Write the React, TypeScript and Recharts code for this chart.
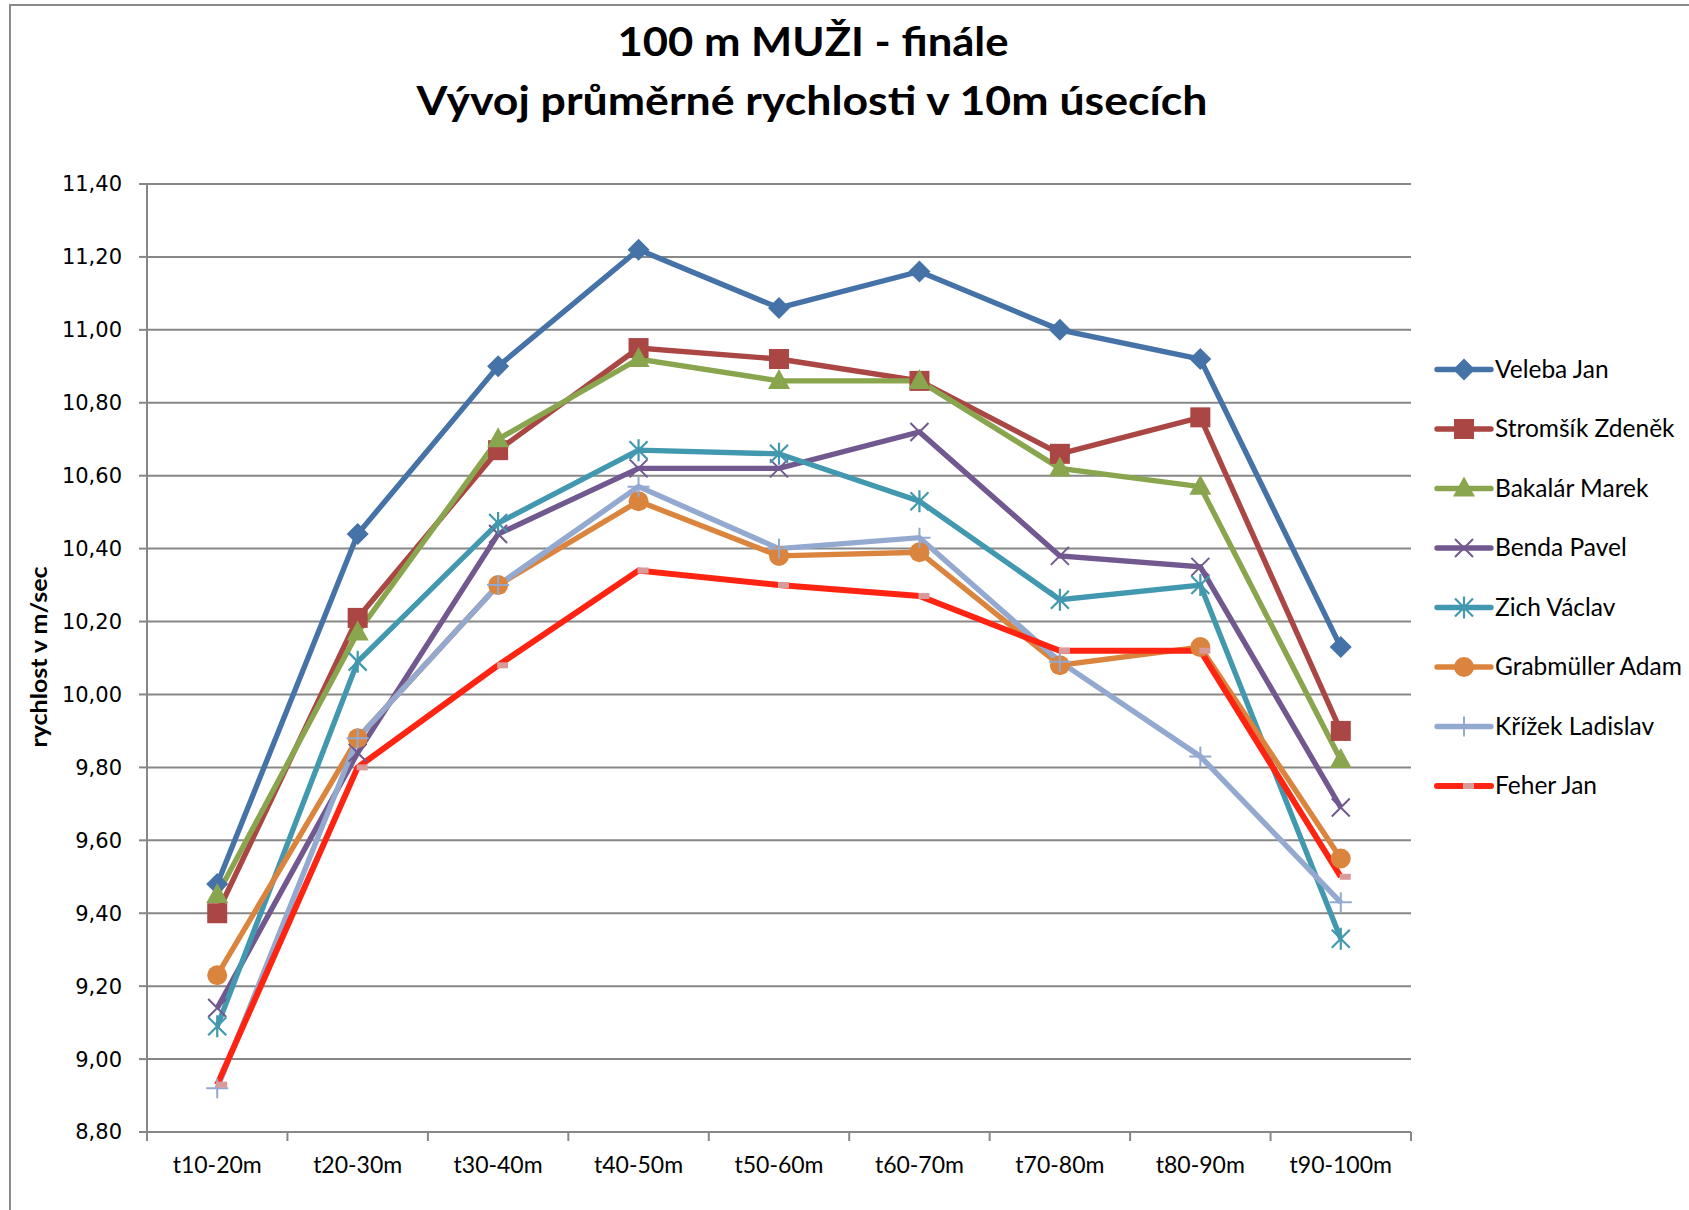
import React from 'react';
import { LineChart, Line, XAxis, YAxis, CartesianGrid } from 'recharts';

const segments = ['t10-20m', 't20-30m', 't30-40m', 't40-50m', 't50-60m', 't60-70m', 't70-80m', 't80-90m', 't90-100m'];

const velebaJan = [9.48, 10.44, 10.9, 11.22, 11.06, 11.16, 11.0, 10.92, 10.13];
const stromsikZdenek = [9.4, 10.21, 10.67, 10.95, 10.92, 10.86, 10.66, 10.76, 9.9];
const bakalarMarek = [9.45, 10.17, 10.7, 10.92, 10.86, 10.86, 10.62, 10.57, 9.82];
const bendaPavel = [9.14, 9.84, 10.44, 10.62, 10.62, 10.72, 10.38, 10.35, 9.69];
const zichVaclav = [9.09, 10.09, 10.47, 10.67, 10.66, 10.53, 10.26, 10.3, 9.33];
const grabmullerAdam = [9.23, 9.88, 10.3, 10.53, 10.38, 10.39, 10.08, 10.13, 9.55];
const krizekLadislav = [8.92, 9.88, 10.3, 10.57, 10.4, 10.43, 10.09, 9.83, 9.43];
const feherJan = [8.93, 9.8, 10.08, 10.34, 10.3, 10.27, 10.12, 10.12, 9.5];

const seriesNames = ['Veleba Jan', 'Stromšík Zdeněk', 'Bakalár Marek', 'Benda Pavel', 'Zich Václav', 'Grabmüller Adam', 'Křížek Ladislav', 'Feher Jan'];
const seriesValues = [velebaJan, stromsikZdenek, bakalarMarek, bendaPavel, zichVaclav, grabmullerAdam, krizekLadislav, feherJan];
const lineColors = ['#4572A7', '#AA4643', '#89A54E', '#71588F', '#4198AF', '#DB843D', '#93A9CF', '#FF2412'];
const markerColors = ['#4572A7', '#AA4643', '#89A54E', '#71588F', '#4198AF', '#DB843D', '#93A9CF', '#D99A9A'];
const markerShapes = ['diamond', 'square', 'triangle', 'x', 'star', 'circle', 'plus', 'dash'];
const lineWidths = [5.4, 5.4, 5.4, 5.4, 5.4, 5.4, 5.4, 6];

const yTicks = [8.8, 9.0, 9.2, 9.4, 9.6, 9.8, 10.0, 10.2, 10.4, 10.6, 10.8, 11.0, 11.2, 11.4];
// category boundaries (integers) and category centres (halves)
const xTicks = [0, 0.5, 1, 1.5, 2, 2.5, 3, 3.5, 4, 4.5, 5, 5.5, 6, 6.5, 7, 7.5, 8, 8.5, 9];

const titleLine1 = '100 m MUŽI - finále';
const titleLine2 = 'Vývoj průměrné rychlosti v 10m úsecích';
const yAxisTitle = 'rychlost v m/sec';

const data = segments.map((seg, i) => {
  const row: any = { seg, pos: i + 0.5 };
  seriesValues.forEach((vals, s) => {
    row['s' + s] = vals[i];
  });
  return row;
});

const GRID = '#878787';

function Marker({ cx, cy, shape, color }: { cx: number; cy: number; shape: string; color: string }) {
  if (cx == null || cy == null) return null;
  switch (shape) {
    case 'diamond':
      return <path d={`M${cx},${cy - 11}L${cx + 11},${cy}L${cx},${cy + 11}L${cx - 11},${cy}Z`} fill={color} />;
    case 'square':
      return <rect x={cx - 10} y={cy - 10} width={20} height={20} fill={color} />;
    case 'triangle':
      return <path d={`M${cx},${cy - 12}L${cx + 11},${cy + 8}L${cx - 11},${cy + 8}Z`} fill={color} />;
    case 'x':
      return <path d={`M${cx - 9},${cy - 9}L${cx + 9},${cy + 9}M${cx + 9},${cy - 9}L${cx - 9},${cy + 9}`} stroke={color} strokeWidth={2} fill="none" />;
    case 'star':
      return (
        <path
          d={`M${cx - 9},${cy - 9}L${cx + 9},${cy + 9}M${cx + 9},${cy - 9}L${cx - 9},${cy + 9}M${cx},${cy - 11}L${cx},${cy + 11}`}
          stroke={color}
          strokeWidth={2.2}
          fill="none"
        />
      );
    case 'circle':
      return <circle cx={cx} cy={cy} r={10} fill={color} />;
    case 'plus':
      return <path d={`M${cx - 11},${cy}L${cx + 11},${cy}M${cx},${cy - 10}L${cx},${cy + 10}`} stroke={color} strokeWidth={2} fill="none" />;
    case 'dash':
      return <rect x={cx - 1} y={cy - 3} width={11} height={6} fill={color} />;
    default:
      return null;
  }
}

function XTick(props: any) {
  const { x, y, payload } = props;
  const v = payload.value as number;
  if (Number.isInteger(v)) {
    return <line x1={x} x2={x} y1={y} y2={y + 9} stroke={GRID} strokeWidth={2} />;
  }
  const label = segments[Math.floor(v)];
  return (
    <text x={x} y={y + 41} textAnchor="middle" fontFamily="Lato, sans-serif" fontSize={23} fill="#000">
      {label}
    </text>
  );
}

const fmt = (v: number) => v.toFixed(2).replace('.', ',');

export default function App() {
  return (
    <div style={{ position: 'absolute', left: 0, top: 0, width: 1689, height: 1210, overflow: 'hidden', background: '#fff' }}>
      <div style={{ position: 'absolute', left: 0, top: 0 }}>
        <LineChart width={1689} height={1210} data={data} margin={{ top: 184, right: 278, bottom: 0, left: 0 }}>
          <CartesianGrid horizontal vertical={false} stroke={GRID} strokeWidth={2} />
          <XAxis
            dataKey="pos"
            type="number"
            domain={[0, 9]}
            ticks={xTicks}
            interval={0}
            height={78}
            tickSize={0}
            tickMargin={0}
            tickLine={false}
            axisLine={{ stroke: GRID, strokeWidth: 2 }}
            tick={<XTick />}
            allowDataOverflow
          />
          <YAxis
            domain={[8.8, 11.4]}
            ticks={yTicks}
            interval={0}
            width={147}
            tickSize={8}
            tickMargin={17}
            tickFormatter={fmt}
            axisLine={{ stroke: GRID, strokeWidth: 2 }}
            tickLine={{ stroke: GRID, strokeWidth: 2 }}
            tick={{ fontFamily: 'DejaVu Sans, sans-serif', fontSize: 21, fill: '#000' }}
            allowDataOverflow
          />
          {seriesNames.map((name, s) => (
            <Line
              key={name}
              name={name}
              dataKey={'s' + s}
              type="linear"
              stroke={lineColors[s]}
              strokeWidth={lineWidths[s]}
              isAnimationActive={false}
              activeDot={false}
              dot={(p: any) => (
                <Marker key={`m${s}-${p.index}`} cx={p.cx} cy={p.cy} shape={markerShapes[s]} color={markerColors[s]} />
              )}
            />
          ))}
        </LineChart>
      </div>
      <svg width={1689} height={1210} style={{ position: 'absolute', left: 0, top: 0, pointerEvents: 'none' }}>
        <rect x={10} y={5} width={1720} height={1240} fill="none" stroke="#8a8a8a" strokeWidth={2} />
        <text x={813} y={56} textAnchor="middle" fontFamily="Lato, sans-serif" fontWeight="bold" fontSize={41} fill="#000" textLength={391} lengthAdjust="spacingAndGlyphs">
          {titleLine1}
        </text>
        <text x={812} y={115} textAnchor="middle" fontFamily="Lato, sans-serif" fontWeight="bold" fontSize={41} fill="#000" textLength={791} lengthAdjust="spacingAndGlyphs">
          {titleLine2}
        </text>
        <text
          x={0}
          y={0}
          transform="translate(47,657) rotate(-90)"
          textAnchor="middle"
          fontFamily="Lato, sans-serif"
          fontWeight="bold"
          fontSize={22}
          fill="#000"
          textLength={181}
          lengthAdjust="spacingAndGlyphs"
        >
          {yAxisTitle}
        </text>
        {seriesNames.map((name, s) => {
          const cy = 369.5 + s * 59.5;
          return (
            <g key={name}>
              <line x1={1437} x2={1491} y1={cy} y2={cy} stroke={lineColors[s]} strokeWidth={lineWidths[s]} strokeLinecap="round" />
              <Marker cx={1464} cy={cy} shape={markerShapes[s]} color={markerColors[s]} />
              <text x={1495} y={cy + 8} fontFamily="Lato, sans-serif" fontSize={24.5} fill="#000">
                {name}
              </text>
            </g>
          );
        })}
      </svg>
    </div>
  );
}
